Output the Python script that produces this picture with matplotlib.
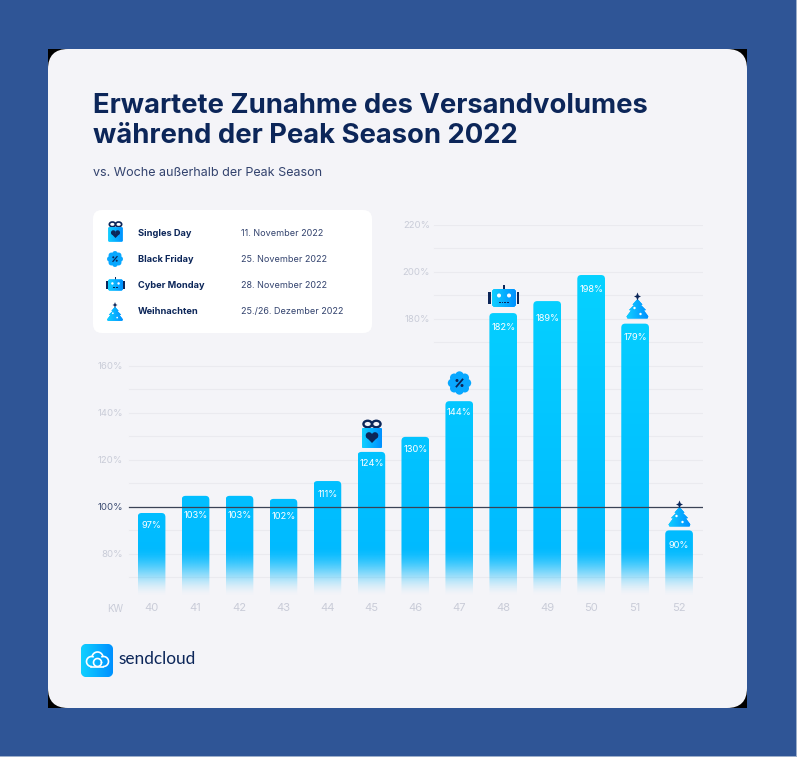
import matplotlib
matplotlib.use('Agg')
import matplotlib.pyplot as plt
import numpy as np
from matplotlib.patches import FancyBboxPatch, Rectangle, Circle, Polygon, Ellipse
from matplotlib.colors import LinearSegmentedColormap

plt.rcParams['font.family'] = ['Inter', 'DejaVu Sans']

# Daten
wochen = [40, 41, 42, 43, 44, 45, 46, 47, 48, 49, 50, 51, 52]
hoehen = [97.4, 104.7, 104.7, 103.4, 111, 123.4, 129.8, 145, 182.5, 187.6, 198.7, 178, 90]
labels = ['97%', '103%', '103%', '102%', '111%', '124%', '130%', '144%', '182%', '189%', '198%', '179%', '90%']
y_ticks = [80, 100, 120, 140, 160, 180, 200, 220]
events = ['Singles Day', 'Black Friday', 'Cyber Monday', 'Weihnachten']
daten = ['11. November 2022', '25. November 2022', '28. November 2022', '25./26. Dezember 2022']

# Abstand Label zu Balkenoberkante, in Pixel
label_abstand = [12, 20, 20, 17.5, 13, 12, 13, 11, 14, 17, 14, 14, 15]

NAVY = '#0C2659'
CARD = '#F4F4F8'
GREY = '#C9CCD8'
GRID = '#EAEAEF'

W, H = 797, 757
fig = plt.figure(figsize=(W / 100, H / 100), dpi=100, facecolor='#2F5596')


def full_axes(z):
    a = fig.add_axes([0, 0, 1, 1], zorder=z)
    a.set_xlim(0, W)
    a.set_ylim(H, 0)
    a.axis('off')
    return a


def rbox(a, x0, y0, x1, y1, r, **kw):
    p = FancyBboxPatch((x0 + r, y0 + r), x1 - x0 - 2 * r, y1 - y0 - 2 * r,
                       boxstyle='round,pad=%s,rounding_size=%s' % (r, r), lw=0, **kw)
    a.add_patch(p)
    return p


def grad(a, x0, y0, x1, y1, c0, c1, clip):
    cm = LinearSegmentedColormap.from_list('g', [c0, c1])
    g = np.linspace(0, 1, 64).reshape(1, -1)
    im = a.imshow(g, extent=(x0, x1, y1, y0), cmap=cm, aspect='auto', zorder=clip.get_zorder())
    im.set_clip_path(clip)
    a.set_xlim(0, W)
    a.set_ylim(H, 0)


def geschenk(a, cx, cy, s=1.0):
    a.add_patch(Ellipse((cx - 4.3 * s, cy - 12 * s), 8.5 * s, 6.5 * s, fc='none', ec=NAVY, lw=1.7 * s))
    a.add_patch(Ellipse((cx + 4.3 * s, cy - 12 * s), 8.5 * s, 6.5 * s, fc='none', ec=NAVY, lw=1.7 * s))
    box = rbox(a, cx - 10 * s, cy - 8 * s, cx + 10 * s, cy + 12 * s, 1.5 * s, fc='#00B4FF')
    grad(a, cx - 10 * s, cy - 8 * s, cx + 10 * s, cy + 12 * s, '#10D0FF', '#0090FF', box)
    a.add_patch(Circle((cx - 3 * s, cy - 0.5 * s), 3.3 * s, fc=NAVY, lw=0, zorder=3))
    a.add_patch(Circle((cx + 3 * s, cy - 0.5 * s), 3.3 * s, fc=NAVY, lw=0, zorder=3))
    a.add_patch(Polygon([(cx - 6.1 * s, cy + 0.8 * s), (cx + 6.1 * s, cy + 0.8 * s), (cx, cy + 7 * s)],
                        fc=NAVY, lw=0, zorder=3))


def rabatt(a, cx, cy, s=1.0):
    for w in np.arange(0, 360, 45):
        dx, dy = np.cos(np.radians(w)) * 7.5 * s, np.sin(np.radians(w)) * 7.5 * s
        a.add_patch(Circle((cx + dx, cy + dy), 4.2 * s, fc='#08A8FF', lw=0))
    a.add_patch(Circle((cx, cy), 8 * s, fc='#08A8FF', lw=0))
    a.plot([cx - 3 * s, cx + 3 * s], [cy + 3.5 * s, cy - 3.5 * s], color=NAVY, lw=1.3 * s)
    a.add_patch(Circle((cx - 2.5 * s, cy - 2.5 * s), 1.5 * s, fc=NAVY, lw=0, zorder=3))
    a.add_patch(Circle((cx + 2.5 * s, cy + 2.5 * s), 1.5 * s, fc=NAVY, lw=0, zorder=3))


def roboter(a, cx, cy, s=1.0):
    a.add_patch(Rectangle((cx - 0.9 * s, cy - 13 * s), 1.8 * s, 6 * s, fc=NAVY, lw=0))
    a.add_patch(Rectangle((cx - 15.5 * s, cy - 6 * s), 2.8 * s, 12 * s, fc=NAVY, lw=0))
    a.add_patch(Rectangle((cx + 12.7 * s, cy - 6 * s), 2.8 * s, 12 * s, fc=NAVY, lw=0))
    kopf = rbox(a, cx - 12 * s, cy - 9 * s, cx + 12 * s, cy + 9 * s, 3 * s, fc='#00B4FF')
    grad(a, cx - 12 * s, cy - 9 * s, cx + 12 * s, cy + 9 * s, '#10D0FF', '#0090FF', kopf)
    for dx in (-5, 5):
        a.add_patch(Circle((cx + dx * s, cy - 2.5 * s), 2 * s, fc='white', lw=0, zorder=3))
    for dx in (-4, -1.3, 1.3, 4):
        a.add_patch(Rectangle((cx + (dx - 0.8) * s, cy + 3.5 * s), 1.6 * s, 1.6 * s, fc=NAVY, lw=0, zorder=3))


def baum(a, cx, cy, s=1.0):
    umriss = [(0, -10), (-5, -4.5), (-3.5, -4), (-8.5, 1), (-6.5, 1.5), (-11, 7.5), (-10, 9.5),
              (10, 9.5), (11, 7.5), (6.5, 1.5), (8.5, 1), (3.5, -4), (5, -4.5)]
    tanne = Polygon([(cx + px_ * s, cy + py_ * s) for px_, py_ in umriss], fc='#00A8FF', lw=0)
    a.add_patch(tanne)
    grad(a, cx - 11 * s, cy - 10 * s, cx + 11 * s, cy + 10 * s, '#10D0FF', '#0090FF', tanne)
    a.add_patch(Circle((cx - 3 * s, cy - 1 * s), 1.2 * s, fc='white', lw=0, zorder=3))
    a.add_patch(Circle((cx + 3 * s, cy + 5 * s), 1.2 * s, fc='white', lw=0, zorder=3))
    a.add_patch(Polygon([(cx, cy - 16.5 * s), (cx + 1.2 * s, cy - 13.5 * s), (cx + 3.5 * s, cy - 12.5 * s),
                         (cx + 1.2 * s, cy - 11.5 * s), (cx, cy - 8.5 * s), (cx - 1.2 * s, cy - 11.5 * s),
                         (cx - 3.5 * s, cy - 12.5 * s), (cx - 1.2 * s, cy - 13.5 * s)], fc=NAVY, lw=0, zorder=3))


def bogen(a, cx, cy, r, t0, t1, lw=1.2):
    t = np.radians(np.linspace(t0, t1, 40))
    a.plot(cx + r * np.cos(t), cy + r * np.sin(t), color='white', lw=lw, zorder=3, solid_capstyle='round')


# Hintergrund
bg = full_axes(0)
bg.add_patch(Rectangle((48, 49), 699, 659, fc='black', lw=0))
rbox(bg, 48, 49, 747, 708, 20, fc=CARD)
rbox(bg, 93, 210, 372, 333, 9, fc='white')
bg.add_patch(Rectangle((796, 0), 1, H, fc='#9DAFCB', lw=0))
bg.add_patch(Rectangle((0, 756), W, 1, fc='#9DAFCB', lw=0))

# Titel
bg.text(93, 106, 'Erwartete Zunahme des Versandvolumes', fontsize=19.75, fontweight='bold', color=NAVY, va='center')
bg.text(93, 136, 'während der Peak Season 2022', fontsize=19.75, fontweight='bold', color=NAVY, va='center')
bg.text(93, 173, 'vs. Woche außerhalb der Peak Season', fontsize=9.05, color='#33436E', va='center')

# Legende
for y, name, datum in zip([234, 259.5, 285.5, 311.5], events, daten):
    bg.text(138, y, name, fontsize=6.65, fontweight='bold', color=NAVY, va='center')
    bg.text(241, y, datum, fontsize=6.5, color='#33436E', va='center')

# Diagramm: x in Wochen, y in Prozent
px = lambda x: x / W
py = lambda y: 1 - y / H
ax = fig.add_axes([px(107.6), py(595), px(703 - 107.6), py(225) - py(595)], zorder=1)
ax.patch.set_alpha(0)
ax.set_xlim(39, 39 + (703 - 107.6) / 43.96)
ax.set_ylim(62.5, 220)
for s in ax.spines.values():
    s.set_visible(False)
ax.tick_params(length=0)

ax.set_yticks(np.arange(70, 230, 10), minor=False)
ax.set_yticklabels([])
ax.set_xticks(wochen)
ax.set_xticklabels(wochen, color=GREY, fontsize=8)
ax.tick_params(axis='x', pad=5.5)
links = (129 - 107.6) / (703 - 107.6)
for v in np.arange(70, 230, 10):
    l = links if v <= 160 else (434 - 107.6) / (703 - 107.6)
    ax.axhline(v, xmin=l, color=GRID, lw=0.8, zorder=0)
ax.axhline(100, xmin=links, color='#3A4256', lw=0.9, zorder=4)
for v in y_ticks:
    x_txt = 123 if v <= 160 else 430
    col = '#3A4A70' if v == 100 else GREY
    ax.annotate('%d%%' % v, xy=(0, v), xycoords=('axes fraction', 'data'),
                xytext=(x_txt - 107.6, -1), textcoords='offset pixels', ha='right', va='center',
                fontsize=6.9, color=col)
ax.annotate('KW', xy=(0, 0), xycoords='axes fraction', xytext=(123 - 107.6, -13.5),
            textcoords='offset pixels', ha='right', va='center', fontsize=7, color=GREY)

# Balken mit Verlauf
ymin = 62.5
ytop = 200.0
c_oben = np.array([0x06, 0xD2, 0xFF]) / 255
c_unten = np.array([0x00, 0xBA, 0xFF]) / 255
breite = 0.63
for w, h, t, d in zip(wochen, hoehen, labels, label_abstand):
    clip = FancyBboxPatch((w - breite / 2 + 0.09, ymin - 10), breite - 0.18, h - ymin + 10 - 1.7,
                          boxstyle='round,pad=0.09,rounding_size=0.09', mutation_aspect=19,
                          fc='none', ec='none', transform=ax.transData)
    ax.add_patch(clip)
    ys = np.linspace(h, ymin, 200)
    img = np.zeros((200, 1, 4))
    mix = np.clip((ys - 80) / (ytop - 80), 0, 1)[:, None]
    img[:, 0, :3] = c_unten + (c_oben - c_unten) * mix
    f = np.clip((ys - ymin + 1) / (84 - ymin), 0, 1)
    img[:, 0, 3] = f * f * (3 - 2 * f)
    im = ax.imshow(img, extent=(w - breite / 2, w + breite / 2, ymin, h), aspect='auto', zorder=2, interpolation='bilinear')
    im.set_clip_path(clip)
    ax.annotate(t, xy=(w, h), xytext=(0, -d), textcoords='offset pixels', color='white',
                fontsize=6.7, ha='center', va='center', zorder=5)
ax.set_xlim(39, 39 + (703 - 107.6) / 43.96)
ax.set_ylim(62.5, 220)

# Icons und Logo
fg = full_axes(2)
fg.patch.set_alpha(0)
geschenk(fg, 115.5, 233, 0.72)
rabatt(fg, 115, 259, 0.68)
roboter(fg, 115.5, 285, 0.62)
baum(fg, 115, 314, 0.72)
geschenk(fg, 372, 436, 1.0)
rabatt(fg, 459.5, 383, 1.0)
roboter(fg, 504, 298, 1.0)
baum(fg, 637.5, 309, 1.0)
baum(fg, 679.5, 517, 1.0)

logo = rbox(fg, 81, 644, 113, 677, 6, fc='#00B4FF')
grad(fg, 81, 644, 113, 677, '#10D0FF', '#0090FF', logo)
bogen(fg, 91.5, 661.5, 5, 90, 290)
bogen(fg, 97.5, 657.5, 5.5, 195, 345)
bogen(fg, 103.5, 661.5, 5, 250, 450)
fg.plot([91.5, 103.5], [666.5, 666.5], color='white', lw=1.2, zorder=3)
bogen(fg, 97.5, 662.5, 4, 0, 360)
fg.text(118.5, 659.5, 'sendcloud', fontsize=12.4, family='Lato', color=NAVY, va='center')

fig.savefig('out.png', dpi=100, facecolor=fig.get_facecolor())
